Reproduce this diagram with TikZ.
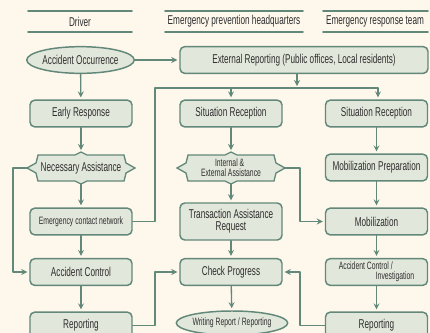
\documentclass[tikz,border=0pt]{standalone}
\usepackage{fontspec}
\setmainfont{Liberation Sans}[FakeStretch=0.64]
\usetikzlibrary{calc,shapes.geometric}
\definecolor{paper}{HTML}{FDF7EC}
\definecolor{boxfill}{HTML}{E2E7DB}
\definecolor{edge}{HTML}{628879}
\definecolor{ink}{HTML}{2E2E2E}

\newcommand{\spikeoutline}[1]{%
  \filldraw[draw=edge, fill=boxfill, line width=1pt, line join=miter]
    ($(#1)+(-43,-13)$) -- ($(#1)+(-6,-13)$) -- ($(#1)+(0,-16)$) -- ($(#1)+(6,-13)$) -- ($(#1)+(43,-13)$)
    -- ($(#1)+(45,-5)$) -- ($(#1)+(54,0)$) -- ($(#1)+(45,5)$) -- ($(#1)+(43,13)$)
    -- ($(#1)+(6,13)$) -- ($(#1)+(0,16)$) -- ($(#1)+(-6,13)$) -- ($(#1)+(-43,13)$)
    -- ($(#1)+(-45,5)$) -- ($(#1)+(-54,0)$) -- ($(#1)+(-45,-5)$) -- cycle;
  \coordinate (#1-w) at ($(#1)+(-54,0)$);
  \coordinate (#1-e) at ($(#1)+(54,0)$);
  \coordinate (#1-n) at ($(#1)+(0,-16)$);
  \coordinate (#1-s) at ($(#1)+(0,16)$);}

\begin{document}
\begin{tikzpicture}[x=0.75pt, y=-0.75pt, >=stealth, line join=round, line cap=round,
  font=\fontsize{9.6}{10}\selectfont, text=ink,
  procbox/.style={draw=edge, fill=boxfill, line width=1.1pt, rounded corners=3.5pt, minimum width=76.5pt, minimum height=20pt, inner sep=1pt, align=center},
  oval/.style={ellipse, draw=edge, fill=boxfill, line width=1.1pt, minimum width=79pt, minimum height=20pt, inner sep=0pt},
  flow/.style={->, draw=edge, line width=1pt, shorten >=1.5pt},
  rail/.style={draw=edge, line width=1pt},
  small/.style={font=\fontsize{8}{7.6}\selectfont}]
	\clip (0,0) rectangle (430,333);
	\fill[paper] (0,0) rectangle (430,333);

	\draw[rail, line width=1.2pt] (28,11) -- (132,11) (28,32) -- (132,32);
	\draw[rail, line width=1.2pt] (165,11) -- (303,11) (165,32) -- (303,32);
	\draw[rail, line width=1.2pt] (323,11) -- (428,11) (323,32) -- (428,32);
	\node (hdriver) at (80,21.5) {Driver};
	\node (hhq) at (234,21.5) {Emergency prevention headquarters};
	\node (hteam) at (375,21.5) {Emergency response team};

	\node[oval] (occur) at (80.5,60) {Accident Occurrence};
	\node[procbox, minimum width=186pt] (ext) at (304,60) {External Reporting (Public offices, Local residents)};
	\node[procbox] (early) at (81,113.5) {Early Response};
	\node[procbox] (sit2) at (231,113.5) {Situation Reception};
	\node[procbox] (sit3) at (376.5,113.5) {Situation Reception};

	\coordinate (need) at (81,168);
	\spikeoutline{need}
	\node (needtxt) at (need) {Necessary Assistance};
	\coordinate (help) at (231,168);
	\spikeoutline{help}
	\node[small, align=left] (helptxt) at (help) {\hspace*{10.5pt}Internal \&\\External Assistance};
	\node[procbox] (prep) at (376.5,167.5) {Mobilization Preparation};

	\node[procbox, small] (ecn) at (81,221.5) {Emergency contact network};
	\node[procbox, minimum height=27.75pt, font=\fontsize{9.6}{9}\selectfont] (req) at (231,221.5) {Transaction Assistance\\Request};
	\node[procbox] (mob) at (376.5,221.5) {Mobilization};

	\node[procbox] (actl) at (81,272) {Accident Control};
	\node[procbox] (check) at (231,272) {Check Progress};
	\node[procbox, small, align=left] (inv) at (376.5,272) {Accident Control /\\\hspace*{27.75pt}Investigation};

	\node[procbox] (rep1) at (81,325.5) {Reporting};
	\node[oval, small, minimum height=18pt] (write) at (232,323) {Writing Report / Reporting};
	\node[procbox] (rep3) at (376.5,325.5) {Reporting};

	\coordinate (split) at (297,88);
	\coordinate (railL) at (155,88);
	\coordinate (railR) at (378,88);
	\draw[flow] (ext.south -| split) -- (split);
	\draw[rail] (ecn.east) -| (railL) -- (railR);
	\draw[flow] (railL -| sit2) -- (sit2);
	\draw[flow] (railR) -- (railR |- sit3.north);
	\draw[flow] (occur) -- (ext);

	\draw[flow] (occur) -- (early);
	\draw[flow] (early) -- (need-n);
	\draw[flow] (need-s) -- (ecn);
	\draw[flow] (ecn) -- (actl);
	\draw[flow] (actl) -- (rep1);
	\draw[flow] (need-w) -- (13,168) |- (actl.west);
	\draw[flow] (rep1.east) -- (155,325.5) |- (check.west);

	\draw[flow] (sit2) -- (help-n);
	\draw[flow] (help-s) -- (req);
	\draw[flow] (req) -- (check);
	\draw[flow] (check) -- (write);
	\draw[flow] (help-e) -- (300,168) |- (mob.west);

	\draw[flow] (sit3) -- (prep);
	\draw[flow] (prep) -- (mob);
	\draw[flow] (mob) -- (inv);
	\draw[flow] (inv) -- (rep3);
	\draw[flow] (rep3.west) -- (300,325.5) |- (check.east);
\end{tikzpicture}
\end{document}
